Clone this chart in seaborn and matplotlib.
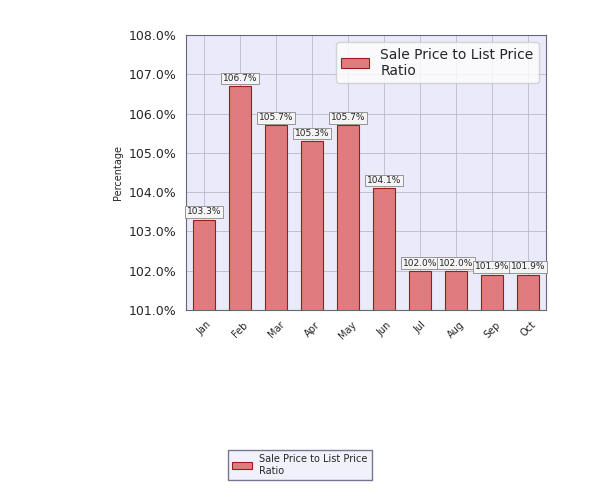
import matplotlib
matplotlib.use('Agg')
import matplotlib.pyplot as plt
import pandas as pd
import seaborn as sns
from matplotlib.ticker import FuncFormatter

months = ['Jan', 'Feb', 'Mar', 'Apr', 'May', 'Jun', 'Jul', 'Aug', 'Sep', 'Oct']
ratios = [103.3, 106.7, 105.7, 105.3, 105.7, 104.1, 102.0, 102.0, 101.9, 101.9]
series_name = 'Sale Price to List Price\nRatio'

sns.set_style('whitegrid')
plt.rcParams['font.family'] = ['DejaVu Sans']

df = pd.DataFrame({'month': months, 'ratio': ratios})

fig = plt.figure(figsize=(6, 5), dpi=100)
fig.patch.set_facecolor('white')
ax = fig.add_axes([0.31, 0.38, 0.60, 0.55])
ax.set_facecolor('#eaeafa')

sns.barplot(data=df, x='month', y='ratio', color='#f06b70', edgecolor='#9b1c1c',
            linewidth=0.8, width=0.6, ax=ax, label=series_name)

ax.set_ylim(101, 108)
ax.yaxis.set_major_formatter(FuncFormatter(lambda v, _: f'{v:.1f}%'))
ax.set_xlabel('')
ax.set_ylabel('Percentage', fontsize=7)
ax.tick_params(axis='x', labelrotation=45, labelsize=7)
ax.tick_params(axis='y', labelsize=9)
ax.grid(color='#b8b8d0', linewidth=0.6)
for s in ax.spines.values():
    s.set_color('#666677')

for i, v in enumerate(ratios):
    ax.text(i, v + 0.08, f'{v:.1f}%', ha='center', va='bottom', fontsize=6.5,
            bbox=dict(boxstyle='square,pad=0.15', fc='#f4f4f4', ec='#888888', lw=0.6))

leg = fig.legend(loc='center', bbox_to_anchor=(0.5, 0.07), fontsize=7,
                 frameon=True, fancybox=False, edgecolor='#555577')
leg.get_frame().set_facecolor('#eeeefa')

fig.savefig('out.png', dpi=100)
